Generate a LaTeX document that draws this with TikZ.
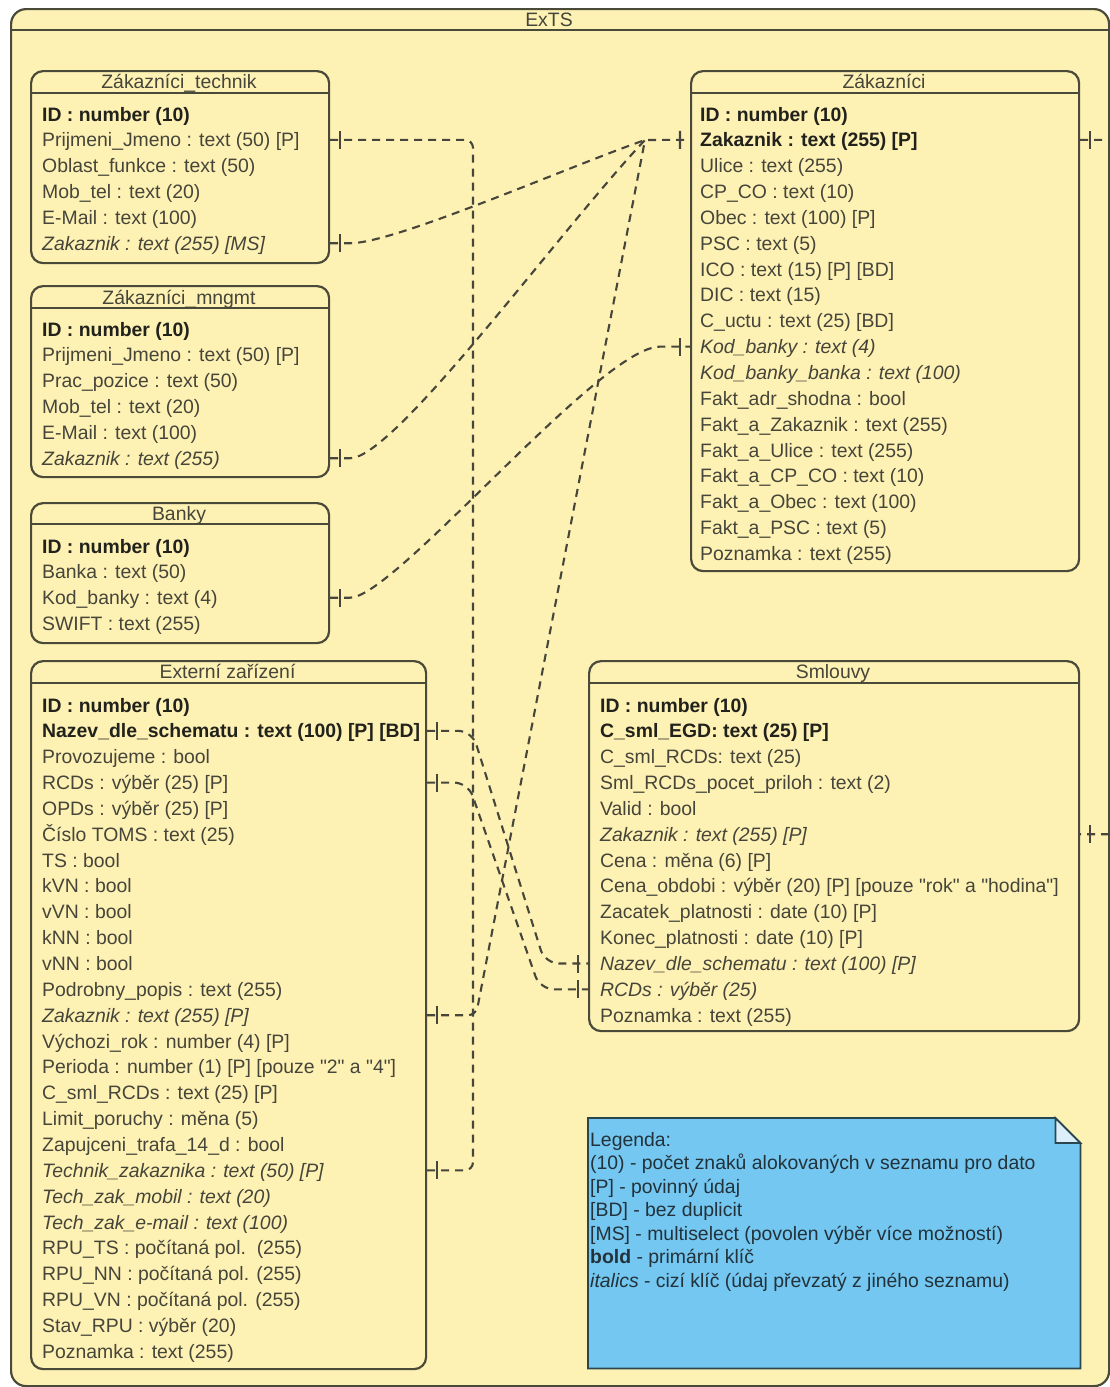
\documentclass[tikz,border=0pt]{standalone}
\usepackage{fontspec}
\setmainfont{Liberation Sans}
\newfontfamily\qfont{Liberation Sans}[Ligatures=TeXOff]
\usetikzlibrary{decorations.markings,calc}
\definecolor{bgy}{HTML}{FEF1B4}
\definecolor{brd}{HTML}{4A4A3A}
\definecolor{txt}{HTML}{45453A}
\definecolor{txb}{HTML}{22221C}
\definecolor{conc}{HTML}{46463A}
\definecolor{legf}{HTML}{74C7F0}
\definecolor{legd}{HTML}{2C4650}
\definecolor{legt}{HTML}{23323A}
\definecolor{foldc}{HTML}{DCEFF9}
\newcommand\rowfnt{\fontsize{19.4}{23.5}\selectfont}
\newcommand\sq{{\qfont"}}
\begin{document}
\begin{tikzpicture}[x=1pt,y=-1pt,
  tbl/.style={draw=brd, line width=2.2pt, rounded corners=12pt, fill=bgy, anchor=north west, inner sep=0pt},
  hdr/.style={draw=brd, line width=2.2pt},
  ttl/.style={font=\rowfnt, text=txt, inner sep=0pt, text height=14pt, text depth=0pt},
  row/.style={font=\rowfnt, text=txt, anchor=west, inner sep=0pt, text height=14pt, text depth=0pt},
  key/.style={row, text=txb, font=\rowfnt\bfseries},
  fk/.style={row, font=\rowfnt\itshape},
  conn/.style={draw=conc, line width=2.1pt, dash pattern=on 8pt off 6pt},
  sbar/.style={postaction={decorate, decoration={markings, mark=at position 10pt with {\draw[conc, solid, line width=2.2pt] (0pt,-9pt) -- (0pt,9pt);}}}},
  ebar/.style={postaction={decorate, decoration={markings, mark=at position -10pt with {\draw[conc, solid, line width=2.2pt] (0pt,-9pt) -- (0pt,9pt);}}}},
]
\useasboundingbox (0,0) rectangle (1110,1387);
\fill[white] (0,0) rectangle (1110,1387);

% container
\node[tbl, rounded corners=15pt, minimum width=1098pt, minimum height=1377pt] (exts) at (10,8) {};
\draw[hdr] (exts.west |- 0,30) -- (exts.east |- 0,30);
\node[ttl] (exts-t) at (549,19) {ExTS};

% Zakaznici_technik
\node[tbl, minimum width=298pt, minimum height=192pt] (tech) at (30,70) {};
\draw[hdr] (tech.west |- 0,93) -- (tech.east |- 0,93);
\node[ttl] (tech-t) at (179,81) {Zákazníci\_technik};
\node[key] (t1) at (42,114) {ID : number (10)};
\node[row] (t2) at (42,139.85) {Prijmeni\_Jmeno : text (50) [P]};
\node[row] (t3) at (42,165.7) {Oblast\_funkce : text (50)};
\node[row] (t4) at (42,191.55) {Mob\_tel : text (20)};
\node[row] (t5) at (42,217.4) {E-Mail : text (100)};
\node[fk]  (t6) at (42,243.25) {Zakaznik : text (255) [MS]};

% Zakaznici_mngmt
\node[tbl, minimum width=298pt, minimum height=191pt] (mng) at (30,285) {};
\draw[hdr] (mng.west |- 0,308) -- (mng.east |- 0,308);
\node[ttl] (mng-t) at (179,297) {Zákazníci\_mngmt};
\node[key] (m1) at (42,329) {ID : number (10)};
\node[row] (m2) at (42,354.85) {Prijmeni\_Jmeno : text (50) [P]};
\node[row] (m3) at (42,380.7) {Prac\_pozice : text (50)};
\node[row] (m4) at (42,406.55) {Mob\_tel : text (20)};
\node[row] (m5) at (42,432.4) {E-Mail : text (100)};
\node[fk]  (m6) at (42,458.25) {Zakaznik : text (255)};

% Banky
\node[tbl, minimum width=298pt, minimum height=140pt] (bnk) at (30,502) {};
\draw[hdr] (bnk.west |- 0,524) -- (bnk.east |- 0,524);
\node[ttl] (bnk-t) at (179,513) {Banky};
\node[key] (b1) at (42,546) {ID : number (10)};
\node[row] (b2) at (42,571.85) {Banka : text (50)};
\node[row] (b3) at (42,597.7) {Kod\_banky : text (4)};
\node[row] (b4) at (42,623.55) {SWIFT : text (255)};

% Externi zarizeni
\node[tbl, minimum width=395pt, minimum height=708pt] (ext) at (30,660) {};
\draw[hdr] (ext.west |- 0,683) -- (ext.east |- 0,683);
\node[ttl] (ext-t) at (227.5,671) {Externí zařízení};
\node[key] (e1) at (42,705) {ID : number (10)};
\node[key] (e2) at (42,730.85) {Nazev\_dle\_schematu : text (100) [P] [BD]};
\node[row] (e3) at (42,756.7) {Provozujeme : bool};
\node[row] (e4) at (42,782.55) {RCDs : výběr (25) [P]};
\node[row] (e5) at (42,808.4) {OPDs : výběr (25) [P]};
\node[row] (e6) at (42,834.25) {Číslo TOMS : text (25)};
\node[row] (e7) at (42,860.1) {TS : bool};
\node[row] (e8) at (42,885.95) {kVN : bool};
\node[row] (e9) at (42,911.8) {vVN : bool};
\node[row] (e10) at (42,937.65) {kNN : bool};
\node[row] (e11) at (42,963.5) {vNN : bool};
\node[row] (e12) at (42,989.35) {Podrobny\_popis : text (255)};
\node[fk]  (e13) at (42,1015.2) {Zakaznik : text (255) [P]};
\node[row] (e14) at (42,1041.05) {Výchozi\_rok : number (4) [P]};
\node[row] (e15) at (42,1066.9) {Perioda : number (1) [P] [pouze \sq2\sq{} a \sq4\sq]};
\node[row] (e16) at (42,1092.75) {C\_sml\_RCDs : text (25) [P]};
\node[row] (e17) at (42,1118.6) {Limit\_poruchy : měna (5)};
\node[row] (e18) at (42,1144.45) {Zapujceni\_trafa\_14\_d : bool};
\node[fk]  (e19) at (42,1170.3) {Technik\_zakaznika : text (50) [P]};
\node[fk]  (e20) at (42,1196.15) {Tech\_zak\_mobil : text (20)};
\node[fk]  (e21) at (42,1222) {Tech\_zak\_e-mail : text (100)};
\node[row] (e22) at (42,1247.85) {RPU\_TS : počítaná pol.\ \ (255)};
\node[row] (e23) at (42,1273.7) {RPU\_NN : počítaná pol. (255)};
\node[row] (e24) at (42,1299.55) {RPU\_VN : počítaná pol. (255)};
\node[row] (e25) at (42,1325.4) {Stav\_RPU : výběr (20)};
\node[row] (e26) at (42,1351.25) {Poznamka : text (255)};

% Zakaznici
\node[tbl, minimum width=388pt, minimum height=500pt] (zak) at (690,70) {};
\draw[hdr] (zak.west |- 0,93) -- (zak.east |- 0,93);
\node[ttl] (zak-t) at (884,81) {Zákazníci};
\node[key] (z1) at (700,114) {ID : number (10)};
\node[key] (z2) at (700,139.85) {Zakaznik : text (255) [P]};
\node[row] (z3) at (700,165.7) {Ulice : text (255)};
\node[row] (z4) at (700,191.55) {CP\_CO : text (10)};
\node[row] (z5) at (700,217.4) {Obec : text (100) [P]};
\node[row] (z6) at (700,243.25) {PSC : text (5)};
\node[row] (z7) at (700,269.1) {ICO : text (15) [P] [BD]};
\node[row] (z8) at (700,294.95) {DIC : text (15)};
\node[row] (z9) at (700,320.8) {C\_uctu : text (25) [BD]};
\node[fk]  (z10) at (700,346.65) {Kod\_banky : text (4)};
\node[fk]  (z11) at (700,372.5) {Kod\_banky\_banka : text (100)};
\node[row] (z12) at (700,398.35) {Fakt\_adr\_shodna : bool};
\node[row] (z13) at (700,424.2) {Fakt\_a\_Zakaznik : text (255)};
\node[row] (z14) at (700,450.05) {Fakt\_a\_Ulice : text (255)};
\node[row] (z15) at (700,475.9) {Fakt\_a\_CP\_CO : text (10)};
\node[row] (z16) at (700,501.75) {Fakt\_a\_Obec : text (100)};
\node[row] (z17) at (700,527.6) {Fakt\_a\_PSC : text (5)};
\node[row] (z18) at (700,553.45) {Poznamka : text (255)};

% Smlouvy
\node[tbl, minimum width=490pt, minimum height=370pt] (sml) at (588,660) {};
\draw[hdr] (sml.west |- 0,683) -- (sml.east |- 0,683);
\node[ttl] (sml-t) at (833,671) {Smlouvy};
\node[key] (s1) at (600,705) {ID : number (10)};
\node[key] (s2) at (600,730.85) {C\_sml\_EGD: text (25) [P]};
\node[row] (s3) at (600,756.7) {C\_sml\_RCDs: text (25)};
\node[row] (s4) at (600,782.55) {Sml\_RCDs\_pocet\_priloh : text (2)};
\node[row] (s5) at (600,808.4) {Valid : bool};
\node[fk]  (s6) at (600,834.25) {Zakaznik : text (255) [P]};
\node[row] (s7) at (600,860.1) {Cena : měna (6) [P]};
\node[row] (s8) at (600,885.95) {Cena\_obdobi : výběr (20) [P] [pouze \sq rok\sq{} a \sq hodina\sq]};
\node[row] (s9) at (600,911.8) {Zacatek\_platnosti : date (10) [P]};
\node[row] (s10) at (600,937.65) {Konec\_platnosti : date (10) [P]};
\node[fk]  (s11) at (600,963.5) {Nazev\_dle\_schematu : text (100) [P]};
\node[fk]  (s12) at (600,989.35) {RCDs : výběr (25)};
\node[row] (s13) at (600,1015.2) {Poznamka : text (255)};

% Legend
\node[inner sep=0pt, minimum width=492pt, minimum height=250pt, anchor=north west] (leg) at (588,1118) {};
\filldraw[fill=legf, draw=legd, line width=1.8pt] (leg.north west) -- ([xshift=-25pt]leg.north east) -- ([yshift=-25pt]leg.north east) -- (leg.south east) -- (leg.south west) -- cycle;
\filldraw[fill=foldc, draw=legd, line width=1.8pt] ([xshift=-25pt]leg.north east) -- ([xshift=-25pt,yshift=-25pt]leg.north east) -- ([yshift=-25pt]leg.north east) -- cycle;
\node[anchor=north west, inner sep=0pt, align=left, font=\rowfnt, text=legt] (legtxt) at (590,1132) {Legenda:\\
(10) - počet znaků alokovaných v seznamu pro dato\\
{[P]} - povinný údaj\\
{[BD]} - bez duplicit\\
{[MS]} - multiselect (povolen výběr více možností)\\
\textbf{bold} - primární klíč\\
\textit{italics} - cizí klíč (údaj převzatý z jiného seznamu)};

% connectors
\coordinate (hub) at (645,140);
\coordinate (busx) at (473,0);
\draw[conn, sbar, ebar, rounded corners=8pt] (tech.east |- t2) -| (busx |- e19) -- (ext.east |- e19);
\draw[conn, sbar, ebar] (tech.east |- t6) -- (350,243.25) .. controls (395,243.25) and (565,168) .. (hub) -- (zak.west |- z2);
\draw[conn, sbar] (mng.east |- m6) -- (350,458.25) .. controls (395,458.25) and (560,230) .. (hub);
\draw[conn, sbar, ebar] (bnk.east |- b3) -- (350,597.7) .. controls (395,597.7) and (600,346.65) .. (660,346.65) -- (zak.west |- z10);
\draw[conn, sbar, rounded corners=8pt] (ext.east |- e13) -- (476,1015.2) -- (hub);
\draw[conn, sbar, ebar, rounded corners=14pt] (ext.east |- e2) -- (472,730.85) -- (545,963.5) -- (sml.west |- s11);
\draw[conn, sbar, ebar, rounded corners=14pt] (ext.east |- e4) -- (468,782.55) -- (540,989.35) -- (sml.west |- s12);
\draw[conn, sbar, ebar, rounded corners=8pt] (zak.east |- z2) -- (1150,139.85) -- (1150,834.25) -- (sml.east |- s6);
\end{tikzpicture}
\end{document}
